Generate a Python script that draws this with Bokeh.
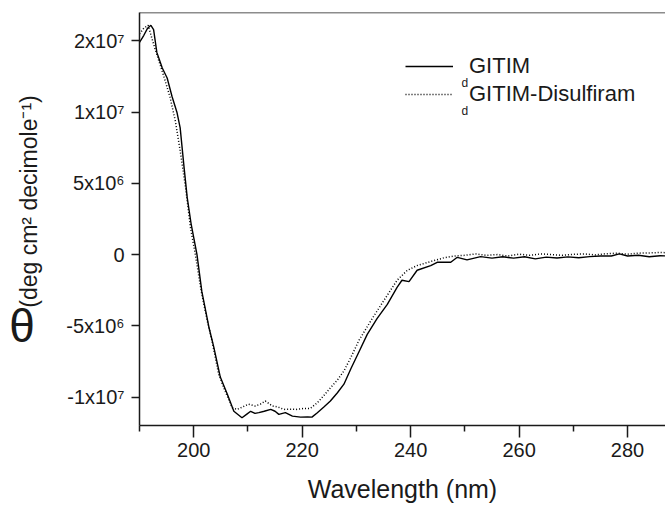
import math
from bokeh.plotting import figure
from bokeh.layouts import row
from bokeh.models import (Range1d, FixedTicker, Legend, LegendItem, Label, Span)
from bokeh.embed import file_html
from bokeh.resources import INLINE

# --- data ---
wl_gitim = [190.0, 190.8, 191.5, 192.1, 192.6, 193.2, 194.2, 195.1, 196.0, 196.9,
            197.5, 198.2, 198.8, 199.5, 200.6, 201.5, 202.8, 203.7, 204.9, 206.2,
            207.4, 208.9, 209.8, 210.5, 211.3, 212.0, 213.0, 214.2, 215.0, 215.7,
            216.9, 218.2, 219.7, 221.0, 221.8, 222.8, 224.0, 225.2, 226.5, 227.7,
            229.0, 230.5, 232.0, 233.8, 235.7, 237.5, 238.4, 239.7, 241.2, 243.7,
            244.9, 247.4, 248.6, 250.4, 252.9, 255.0, 257.0, 259.0, 261.0, 263.0,
            265.0, 267.0, 269.0, 271.0, 273.0, 275.0, 277.0, 278.5, 280.0, 282.0,
            284.0, 286.0, 288.0]
theta_gitim = [1.49e7, 1.54e7, 1.59e7, 1.61e7, 1.58e7, 1.42e7, 1.31e7, 1.24e7, 1.11e7, 1.00e7,
               8.9e6, 6.2e6, 4.0e6, 2.2e6, 0.0, -2.6e6, -5.1e6, -6.5e6, -8.6e6, -9.8e6,
               -1.10e7, -1.146e7, -1.12e7, -1.10e7, -1.115e7, -1.11e7, -1.10e7, -1.087e7, -1.10e7, -1.122e7,
               -1.11e7, -1.134e7, -1.141e7, -1.14e7, -1.141e7, -1.11e7, -1.07e7, -1.028e7, -9.7e6, -9.1e6,
               -8.0e6, -6.8e6, -5.6e6, -4.5e6, -3.5e6, -2.3e6, -1.8e6, -1.9e6, -1.1e6, -7.7e5,
               -5.4e5, -5.4e5, -1.9e5, -3.7e5, -1.4e5, -2.5e5, -1.5e5, -2.5e5, -1.5e5, -3.0e5,
               -1.8e5, -2.4e5, -1.6e5, -2.2e5, -1.4e5, -1.0e5, -1.0e5, 5e4, -1.0e5, -5e4,
               -1.5e5, -8e4, -1.0e5]

wl_disulf = [190.0, 190.8, 191.6, 192.2, 192.9, 194.5, 195.6, 196.6, 197.5, 198.5,
             199.4, 200.3, 201.4, 202.5, 203.4, 204.6, 205.8, 207.1, 208.0, 209.0,
             210.1, 211.3, 212.3, 213.2, 214.5, 215.5, 216.6, 218.0, 219.0, 220.3,
             221.5, 222.8, 224.0, 225.2, 226.5, 227.7, 229.0, 230.5, 232.9, 235.1,
             237.5, 239.4, 241.2, 244.3, 246.1, 248.0, 250.0, 252.0, 254.0, 256.0,
             258.0, 260.0, 262.0, 264.0, 266.0, 268.0, 270.0, 272.0, 274.0, 276.0,
             278.0, 280.0, 282.0, 284.0, 286.0, 288.0]
theta_disulf = [1.55e7, 1.59e7, 1.61e7, 1.53e7, 1.44e7, 1.25e7, 1.11e7, 9.4e6, 7.3e6, 4.7e6,
                1.9e6, 0.0, -2.6e6, -4.65e6, -6.1e6, -8.4e6, -9.6e6, -1.075e7, -1.087e7, -1.07e7,
                -1.05e7, -1.063e7, -1.05e7, -1.028e7, -1.063e7, -1.07e7, -1.087e7, -1.085e7, -1.087e7, -1.08e7,
                -1.08e7, -1.04e7, -9.9e6, -9.35e6, -8.8e6, -8.17e6, -7.2e6, -6.0e6, -4.5e6, -3.2e6,
                -1.8e6, -1.1e6, -7.7e5, -4.2e5, -2.3e5, -1.0e5, -5e4, 5e4, -5e4, 0.0,
                -1.0e5, 3e4, -5e4, 5e4, 0.0, -5e4, 2e4, 5e4, -2e4, 6e4,
                1.0e5, 3e4, 1.0e5, 1.2e5, 1.5e5, 1.2e5]

x_ticks = [200, 220, 240, 260, 280]
x_minor_ticks = [190, 210, 230, 250, 270]
y_ticks = [-1e7, -5e6, 0, 5e6, 1e7, 1.5e7]
y_tick_labels = ["-1x10\u2077", "-5x10\u2076", "0", "5x10\u2076", "1x10\u2077", "2x10\u2077"]
series_names = ["GITIM", "GITIM-Disulfiram"]
series_prefix = "d"
x_title = "Wavelength (nm)"
y_symbol = "\u03b8"
y_title = "(deg cm\u00b2 decimole\u207b\u00b9)"

FONT = "Liberation Sans"
INK = "#1a1a1a"
X_START, X_END = 190, 287
Y_START, Y_END = -1.2e7, 1.7e7
H = 507
LEFT_W = 48

# ---- narrow strip holding the y-axis title (its frame is aligned with the main frame) ----
lab = figure(width=LEFT_W, height=H, output_backend="svg", toolbar_location=None,
             x_range=Range1d(0, LEFT_W), y_range=Range1d(0, H),
             x_axis_type=None, y_axis_type=None,
             min_border_left=0, min_border_right=0, min_border_top=12, min_border_bottom=82,
             background_fill_color="white", border_fill_color="white")
lab.outline_line_color = None
lab.grid.visible = False
lab.add_layout(Label(x=21.5, y=100, x_units="screen", y_units="screen", text=y_symbol,
                     text_font=FONT, text_font_size="46px", text_color=INK,
                     text_align="center", text_baseline="alphabetic"))
lab.add_layout(Label(x=28, y=224, x_units="screen", y_units="screen", text=y_title,
                     angle=math.pi / 2, text_font=FONT, text_font_size="23px", text_color=INK,
                     text_align="center", text_baseline="middle"))

# ---- main plot ----
p = figure(width=665 - LEFT_W, height=H, output_backend="svg", toolbar_location=None,
           x_range=Range1d(X_START, X_END), y_range=Range1d(Y_START, Y_END),
           min_border_left=139 - LEFT_W, min_border_right=0, min_border_top=12, min_border_bottom=82,
           background_fill_color="white", border_fill_color="white")
p.outline_line_color = None
p.grid.visible = False

r1 = p.line(wl_gitim, theta_gitim, line_color="black", line_width=1.4)
r2 = p.line(wl_disulf, theta_disulf, line_color="black", line_width=1.5, line_dash="1 2")

# x axis
xa = p.xaxis[0]
xa.ticker = FixedTicker(ticks=x_ticks, minor_ticks=x_minor_ticks)
xa.axis_label = x_title
xa.axis_label_text_font = FONT
xa.axis_label_text_font_size = "25px"
xa.axis_label_text_font_style = "normal"
xa.axis_label_text_color = INK
xa.axis_label_standoff = 15
xa.major_label_text_font = FONT
xa.major_label_text_font_size = "20px"
xa.major_label_text_color = INK
xa.major_label_standoff = 5
xa.major_tick_out = 12
xa.major_tick_in = 0
xa.minor_tick_out = 6
xa.minor_tick_in = 0
xa.axis_line_width = 1.5
xa.axis_line_color = INK
xa.major_tick_line_width = 1.5
xa.major_tick_line_color = INK
xa.minor_tick_line_width = 1.5
xa.minor_tick_line_color = INK

# y axis
ya = p.yaxis[0]
ya.ticker = FixedTicker(ticks=y_ticks, minor_ticks=[])
ya.major_label_overrides = {t: lab_ for t, lab_ in zip(y_ticks, y_tick_labels)}
ya.major_label_text_font = FONT
ya.major_label_text_font_size = "20px"
ya.major_label_text_color = INK
ya.major_label_standoff = 7
ya.major_tick_out = 8
ya.major_tick_in = 0
ya.minor_tick_line_color = None
ya.axis_line_width = 1.5
ya.axis_line_color = INK
ya.major_tick_line_width = 1.5
ya.major_tick_line_color = INK

# top border line of the frame
p.add_layout(Span(location=Y_END, dimension="width", line_color=INK, line_width=1.5))

# legend
legend = Legend(items=[LegendItem(label=series_names[0], renderers=[r1]),
                       LegendItem(label=series_names[1], renderers=[r2])],
                location=(266, 317), glyph_width=48, glyph_height=28,
                label_height=28, label_standoff=16, spacing=0, padding=0, margin=0,
                label_text_font=FONT, label_text_font_size="22px", label_text_color=INK,
                background_fill_alpha=0, border_line_alpha=0)
p.add_layout(legend)

for yoff in [343, 315]:
    p.add_layout(Label(x=322, y=yoff, x_units="screen", y_units="screen",
                       text=series_prefix, text_font=FONT, text_font_size="12px",
                       text_color=INK, text_align="left", text_baseline="alphabetic"))

layout = row(lab, p, spacing=0)
open("out.html", "w").write(file_html(layout, INLINE))
